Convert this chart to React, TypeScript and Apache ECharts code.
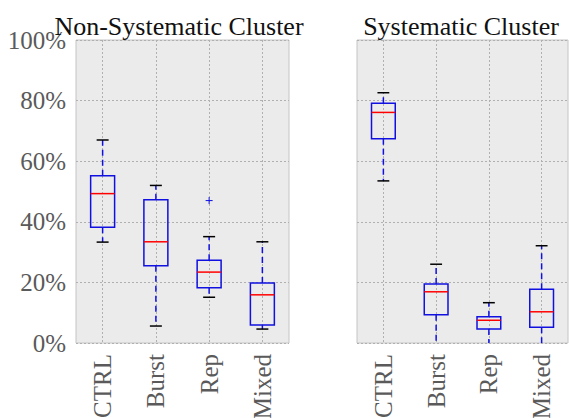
import React, { useEffect, useRef } from "react";
import * as echarts from "echarts";

const categories = ["CTRL", "Burst", "Rep", "Mixed"];
const yTicks = [0, 20, 40, 60, 80, 100];
// [low whisker, Q1, median, Q3, high whisker] in %
const nonSystematic = [
  [33.3, 38.2, 49.3, 55.2, 67.0],
  [5.6, 25.5, 33.4, 47.3, 52.0],
  [15.1, 18.2, 23.4, 27.3, 35.1],
  [4.6, 5.9, 15.9, 19.8, 33.4],
];
const nonSystematicOutliers = [[2, 47.0]];
const systematic = [
  [53.5, 67.4, 76.1, 79.1, 82.6],
  [0, 9.3, 16.9, 19.5, 26.0],
  [0, 4.6, 7.5, 8.7, 13.3],
  [0, 5.2, 10.3, 17.7, 32.1],
];
const titles = ["Non-Systematic Cluster", "Systematic Cluster"];

const FONT = "Times New Roman, serif";
const BLUE = "#1010e0";

const renderBox = (params: any, api: any) => {
  const idx = api.value(0);
  const lo = api.coord([idx, api.value(1)]);
  const q1 = api.coord([idx, api.value(2)]);
  const med = api.coord([idx, api.value(3)]);
  const q3 = api.coord([idx, api.value(4)]);
  const hi = api.coord([idx, api.value(5)]);
  const band = api.size([1, 0])[0];
  const bw = band * 0.45;
  const cw = bw * 0.5;
  const x = lo[0];
  const dash = { stroke: BLUE, lineWidth: 1.5, lineDash: [6, 4] };
  const children: any[] = [
    { type: "line", shape: { x1: x, y1: q3[1], x2: x, y2: hi[1] }, style: dash },
    { type: "line", shape: { x1: x, y1: q1[1], x2: x, y2: lo[1] }, style: dash },
    { type: "line", shape: { x1: x - cw / 2, y1: hi[1], x2: x + cw / 2, y2: hi[1] }, style: { stroke: "#000", lineWidth: 1.5 } },
  ];
  if (api.value(1) > 0) {
    children.push({ type: "line", shape: { x1: x - cw / 2, y1: lo[1], x2: x + cw / 2, y2: lo[1] }, style: { stroke: "#000", lineWidth: 1.5 } });
  }
  children.push(
    { type: "rect", shape: { x: x - bw / 2, y: q3[1], width: bw, height: q1[1] - q3[1] }, style: { fill: "none", stroke: BLUE, lineWidth: 1.5 } },
    { type: "line", shape: { x1: x - bw / 2, y1: med[1], x2: x + bw / 2, y2: med[1] }, style: { stroke: "#ff0000", lineWidth: 1.5 } }
  );
  return { type: "group", children };
};

const renderOutlier = (params: any, api: any) => {
  const p = api.coord([api.value(0), api.value(1)]);
  const s = 3.5;
  return {
    type: "group",
    children: [
      { type: "line", shape: { x1: p[0] - s, y1: p[1], x2: p[0] + s, y2: p[1] }, style: { stroke: BLUE, lineWidth: 1 } },
      { type: "line", shape: { x1: p[0], y1: p[1] - s, x2: p[0], y2: p[1] + s }, style: { stroke: BLUE, lineWidth: 1 } },
    ],
  };
};

export default function App() {
  const ref = useRef<HTMLDivElement>(null);
  useEffect(() => {
    if (!ref.current) return;
    const chart = echarts.init(ref.current, null, { renderer: "svg" });
    const grids = [
      { left: 76, top: 40, width: 213, height: 303 },
      { left: 357, top: 40, width: 211, height: 303 },
    ];
    const titleCenters = [179, 461];
    const gridOpts = grids.map((g) => ({
      ...g,
      show: true,
      backgroundColor: "#ebebeb",
      borderColor: "#c4c4c4",
      borderWidth: 1,
      containLabel: false,
      outerBoundsMode: "none",
    }));
    const xAxes = grids.map((_, i) => ({
      type: "category",
      gridIndex: i,
      data: categories,
      boundaryGap: true,
      axisLine: { show: false },
      axisTick: { show: false, alignWithLabel: true },
      splitLine: { show: true, alignWithLabel: true, lineStyle: { color: "#b0b0b0", type: [2, 2], width: 1 } },
      axisLabel: { rotate: 90, margin: 11, color: "#5a5a5a", fontFamily: FONT, fontSize: 25 },
    }));
    const yAxes = grids.map((_, i) => ({
      type: "value",
      gridIndex: i,
      min: yTicks[0],
      max: yTicks[yTicks.length - 1],
      interval: yTicks[1] - yTicks[0],
      axisLine: { show: false },
      axisTick: { show: false },
      splitLine: { show: true, lineStyle: { color: "#b0b0b0", type: [2, 2], width: 1 } },
      axisLabel: { show: i === 0, formatter: "{value}%", margin: 10, color: "#5a5a5a", fontFamily: FONT, fontSize: 25 },
    }));
    const toData = (arr: number[][]) => arr.map((r, i) => [i, ...r]);
    chart.setOption({
      animation: false,
      textStyle: { fontFamily: FONT },
      title: grids.map((g, i) => ({
        text: titles[i],
        left: titleCenters[i],
        top: 13,
        padding: 0,
        textAlign: "center",
        textStyle: { fontFamily: FONT, fontSize: 26, fontWeight: "normal", color: "#111" },
      })),
      grid: gridOpts,
      xAxis: xAxes,
      yAxis: yAxes,
      series: [
        { type: "custom", xAxisIndex: 0, yAxisIndex: 0, renderItem: renderBox, data: toData(nonSystematic), z: 5 },
        { type: "custom", xAxisIndex: 0, yAxisIndex: 0, renderItem: renderOutlier, data: nonSystematicOutliers, z: 5 },
        { type: "custom", xAxisIndex: 1, yAxisIndex: 1, renderItem: renderBox, data: toData(systematic), z: 5 },
      ],
    });
    return () => chart.dispose();
  }, []);
  return <div ref={ref} style={{ width: 569, height: 418, position: "absolute", left: 0, top: 0 }} />;
}
